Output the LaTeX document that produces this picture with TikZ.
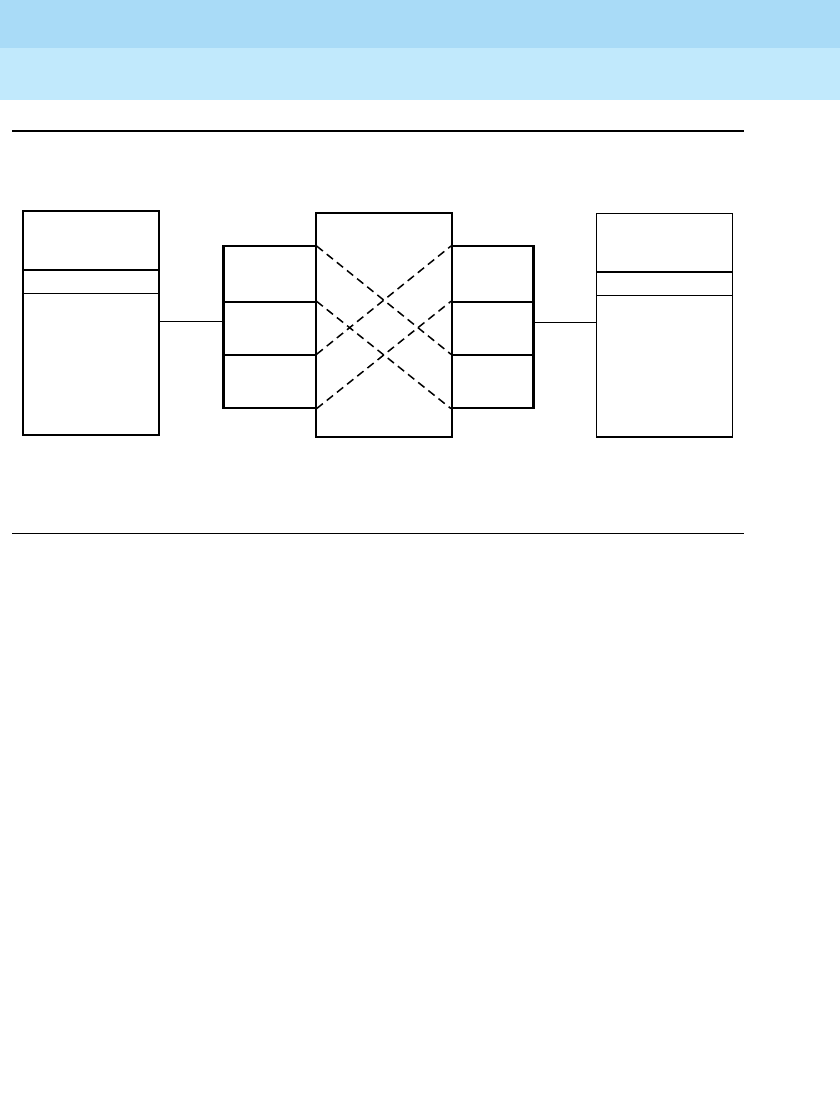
\documentclass[tikz,border=0pt]{standalone}
\begin{document}
\begin{tikzpicture}[x=1pt,y=-1pt,
  box/.style={draw=black,line width=1.3pt,rectangle,inner sep=0pt,anchor=north west},
  bigbox/.style={draw=black,line width=2.4pt,rectangle,inner sep=0pt,anchor=north west},
  thin/.style={line width=1.3pt},
  thick/.style={line width=2.4pt},
  cross/.style={line width=1.5pt,dash pattern=on 8pt off 5pt}]
\definecolor{hdrdark}{RGB}{169,219,247}
\definecolor{hdrlight}{RGB}{193,233,252}
\useasboundingbox (0,0) rectangle (840,1104);
\fill[white] (0,0) rectangle (840,1104);
% header bands
\fill[hdrdark] (0,0) rectangle (840,48);
\fill[hdrlight] (0,48) rectangle (840,100);
% rules
\coordinate (r1a) at (12,130.7);
\coordinate (r1b) at (744,130.7);
\draw[line width=2pt] (r1a) -- (r1b);
\coordinate (r2a) at (12,533.3);
\coordinate (r2b) at (744,533.3);
\draw[line width=1.1pt] (r2a) -- (r2b);
% left box
\node[box,minimum width=136pt,minimum height=224pt] (L) at (22.3,210.3) {};
\draw[thick] (L.west |- 0,270) -- (L.east |- 0,270);
\draw[thin] (L.west |- 0,293.3) -- (L.east |- 0,293.3);
% right box
\node[box,minimum width=136pt,minimum height=223.6pt] (R) at (596,212.7) {};
\draw[thick] (R.west |- 0,271.7) -- (R.east |- 0,271.7);
\draw[thin] (R.west |- 0,295.3) -- (R.east |- 0,295.3);
% left port cells
\node[box,minimum width=92pt,minimum height=55.3pt] (P1) at (223.3,246) {};
\node[box,minimum width=92pt,minimum height=53pt] (P2) at (223.3,301.3) {};
\node[box,minimum width=92pt,minimum height=53pt] (P3) at (223.3,354.3) {};
\draw[thick] (P1.north east) -- (P1.north west) -- (P3.south west);
% right port cells
\node[box,minimum width=81.3pt,minimum height=55.3pt] (Q1) at (451,246) {};
\node[box,minimum width=81.3pt,minimum height=53pt] (Q2) at (451,301.3) {};
\node[box,minimum width=81.3pt,minimum height=53pt] (Q3) at (451,354.3) {};
\draw[thick] (Q1.north west) -- (Q1.north east) -- (Q3.south east);
% center box
\node[bigbox,minimum width=136.3pt,minimum height=223.7pt] (C) at (314.7,212) {};
% dashed crossings
\draw[cross] (P1.north east) -- (Q3.north west);
\draw[cross] (P2.north east) -- (Q3.south west);
\draw[cross] (P3.north east) -- (Q1.north west);
\draw[cross] (P3.south east) -- (Q2.north west);
% connectors
\draw[thin] ([yshift=1.6pt]L.east) -- ([yshift=1.6pt]L.east -| P2.west);
\draw[thin] ([yshift=2.8pt]R.west) -- ([yshift=2.8pt]R.west -| Q2.east);
\end{tikzpicture}
\end{document}
